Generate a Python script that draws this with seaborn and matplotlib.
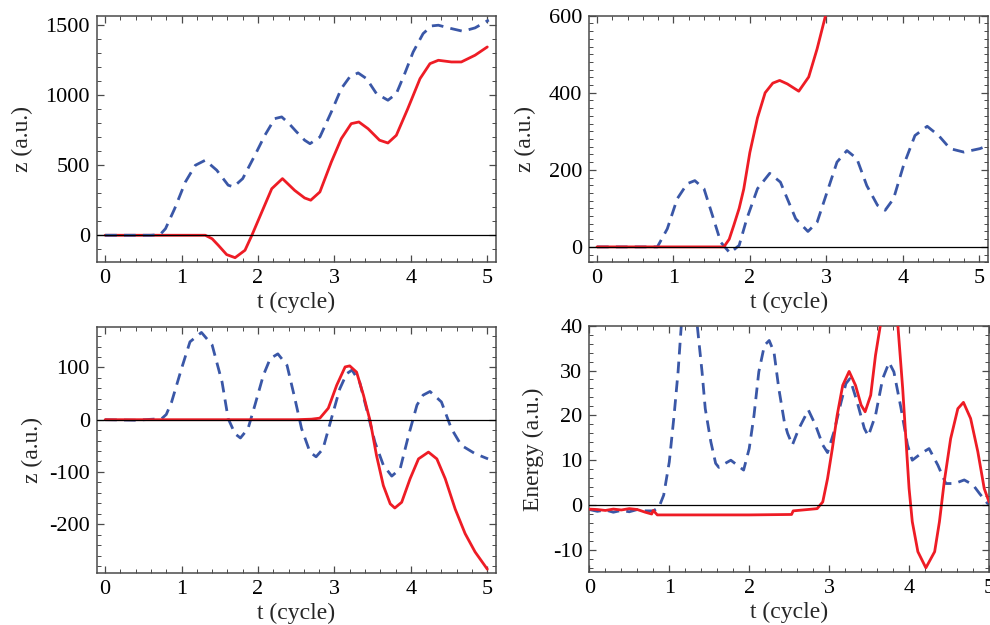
import numpy as np
import pandas as pd
import matplotlib
matplotlib.use("Agg")
import matplotlib.pyplot as plt
from matplotlib.ticker import MultipleLocator
import seaborn as sns

# ---------------- data ----------------
# Panel 1 (top-left): z (a.u.)
p1_blue_t = [0, 0.3, 0.6, 0.72, 0.79, 0.91, 1.05, 1.18, 1.31, 1.46, 1.61, 1.68, 1.80, 1.96, 2.09,
             2.22, 2.31, 2.40, 2.50, 2.61, 2.68, 2.81, 2.96, 3.09, 3.20, 3.31, 3.42, 3.55, 3.70,
             3.81, 3.92, 4.03, 4.16, 4.27, 4.36, 4.53, 4.68, 4.84, 4.99, 5.02]
p1_blue_z = [0, 0, 0, 5, 47, 190, 380, 499, 535, 464, 357, 345, 404, 571, 713,
             832, 844, 800, 740, 678, 653, 701, 880, 1046, 1129, 1158, 1117, 1010, 963,
             1010, 1153, 1307, 1438, 1493, 1498, 1474, 1455, 1479, 1526, 1535]
p1_red_t = [0, 0.5, 1.0, 1.31, 1.40, 1.48, 1.59, 1.70, 1.83, 1.92, 2.05, 2.18, 2.32, 2.48, 2.61,
            2.69, 2.81, 2.96, 3.09, 3.22, 3.32, 3.44, 3.59, 3.70, 3.81, 3.96, 4.12, 4.25, 4.36,
            4.53, 4.66, 4.84, 5.00]
p1_red_z = [0, 0, 0, 0, -25, -71, -138, -160, -107, 0, 166, 332, 404, 320, 266,
            250, 309, 523, 689, 796, 808, 760, 678, 658, 713, 903, 1117, 1224, 1248,
            1236, 1236, 1284, 1343]

# Panel 2 (top-right): z (a.u.)
p2_blue_t = [0, 0.5, 0.79, 0.92, 1.05, 1.18, 1.28, 1.40, 1.51, 1.62, 1.74, 1.86, 1.96, 2.10, 2.26,
             2.40, 2.49, 2.60, 2.76, 2.88, 3.01, 3.14, 3.27, 3.40, 3.53, 3.67, 3.77, 3.88, 4.01,
             4.16, 4.32, 4.47, 4.62, 4.80, 5.01, 5.05]
p2_blue_z = [0, 0, 0, 47, 125, 164, 172, 151, 82, 12, -16, 4, 73, 151, 191,
             168, 125, 73, 40, 64, 142, 220, 250, 229, 159, 108, 95, 125, 211,
             289, 313, 289, 255, 246, 255, 258]
p2_red_t = [0, 1.0, 1.66, 1.73, 1.79, 1.86, 1.92, 2.00, 2.10, 2.20, 2.30, 2.39, 2.49, 2.64, 2.77,
            2.88, 2.99]
p2_red_z = [0, 0, 0, 20, 56, 100, 150, 245, 335, 400, 425, 432, 423, 404, 441,
            514, 600]

# Panel 3 (bottom-left): z (a.u.)
p3_blue_t = [0, 0.4, 0.74, 0.80, 0.87, 1.00, 1.11, 1.26, 1.40, 1.53, 1.61, 1.70, 1.77, 1.87, 1.96,
             2.07, 2.16, 2.26, 2.38, 2.48, 2.57, 2.68, 2.76, 2.85, 2.96, 3.07, 3.16, 3.23, 3.33,
             3.42, 3.53, 3.64, 3.75, 3.86, 3.97, 4.08, 4.16, 4.25, 4.40, 4.53, 4.66, 4.84, 5.01]
p3_blue_z = [0, -1, 2, 10, 34, 98, 149, 167, 143, 72, 2, -27, -35, -17, 28,
             85, 117, 126, 104, 42, -17, -62, -71, -56, 2, 59, 88, 95, 72,
             21, -43, -87, -108, -94, -30, 28, 47, 54, 34, -17, -49, -65, -75]
p3_red_t = [0, 0.5, 1.0, 1.5, 2.0, 2.5, 2.70, 2.81, 2.92, 3.03, 3.14, 3.20, 3.29, 3.38, 3.47,
            3.55, 3.64, 3.73, 3.79, 3.88, 3.99, 4.10, 4.23, 4.34, 4.45, 4.58, 4.71, 4.84, 5.00]
p3_red_z = [0, 0, 0, 0, 0, 0, 1, 3, 22, 66, 101, 103, 91, 47, -4,
            -68, -126, -161, -169, -158, -113, -75, -62, -75, -113, -171, -218, -253, -286]

# Panel 4 (bottom-right): Energy (a.u.)
p4_blue_t = [0, 0.1, 0.2, 0.3, 0.4, 0.5, 0.6, 0.7, 0.8, 0.87, 0.93, 1.00, 1.06, 1.11, 1.15,
             1.25, 1.35, 1.41, 1.45, 1.52, 1.58, 1.62, 1.70, 1.77, 1.85, 1.93, 2.00, 2.06, 2.12,
             2.19, 2.25, 2.31, 2.37, 2.44, 2.48, 2.54, 2.62, 2.74, 2.83, 2.92, 2.98, 3.06, 3.15,
             3.21, 3.26, 3.35, 3.44, 3.49, 3.58, 3.67, 3.75, 3.81, 3.90, 3.98, 4.04, 4.15, 4.25,
             4.36, 4.46, 4.57, 4.69, 4.80, 4.88, 4.98, 5.00]
p4_blue_e = [-1.0, -1.4, -1.1, -1.6, -1.2, -1.5, -1.0, -1.3, -1.3, -0.5, 2.2, 9.6, 20, 29.7, 40,
             47, 40, 29.7, 21.5, 14.1, 9.3, 8.4, 9.3, 10, 8.9, 7.8, 12.6, 20, 29.7,
             35.6, 36.7, 34.1, 26, 18.5, 16, 13.4, 17, 21.2, 17.8, 13.4, 11.7, 16.3, 23,
             27.1, 28.2, 23, 17.1, 15.4, 20, 28.2, 31.8, 29.7, 21.5, 13.4, 10, 11.5, 12.6,
             8.9, 4.8, 4.8, 5.6, 4.5, 2.6, 0.4, 0.2]
p4_red_t = [0, 0.1, 0.2, 0.3, 0.4, 0.5, 0.6, 0.7, 0.78, 0.80, 0.85, 1.5, 2.0, 2.53, 2.55,
            2.85, 2.92, 2.98, 3.04, 3.10, 3.17, 3.25, 3.33, 3.40, 3.45, 3.52, 3.58, 3.64, 3.75,
            3.86, 3.92, 3.96, 4.00, 4.04, 4.11, 4.21, 4.32, 4.38, 4.44, 4.52, 4.61, 4.68, 4.77,
            4.86, 4.94, 5.00]
p4_red_e = [-0.9, -1.0, -1.2, -0.9, -1.1, -0.8, -1.0, -1.6, -2.0, -1.2, -2.2, -2.2, -2.2, -2.1, -1.3,
            -0.8, 0.7, 5.9, 12.6, 20, 26.7, 29.8, 26.7, 22.3, 20.8, 24.5, 33.4, 40, 50,
            40, 26, 14.8, 3.7, -3.7, -10.4, -14.0, -10.4, -3.7, 5.2, 14.8, 21.5, 22.9, 19.3,
            11.9, 3.7, 0.7]

x_ticks = [0, 1, 2, 3, 4, 5]
x_label = "t (cycle)"
y_labels = ["z (a.u.)", "z (a.u.)", "z (a.u.)", "Energy (a.u.)"]

# ---------------- style ----------------
sns.set_style("ticks")
plt.rcParams["font.family"] = ["Liberation Serif", "DejaVu Serif"]
plt.rcParams["axes.unicode_minus"] = False
plt.rcParams["mathtext.fontset"] = "stix"

RED = "#ee1c25"
BLUE = "#3a57a7"
FRAME = "#4a4a4a"

fig = plt.figure(figsize=(9.9, 6.25), dpi=100)

panels = [
    dict(rect=[0.0977, 0.5803, 0.4030, 0.3946], blue=(p1_blue_t, p1_blue_z), red=(p1_red_t, p1_red_z),
         xlim=(-0.11, 5.11), ylim=(-193, 1566), yticks=[0, 500, 1000, 1500], yminor=100,
         ylab=y_labels[0], ylabx=-0.187, blue_top=True),
    dict(rect=[0.5953, 0.5803, 0.4030, 0.3946], blue=(p2_blue_t, p2_blue_z), red=(p2_red_t, p2_red_z),
         xlim=(-0.10, 5.12), ylim=(-40, 600), yticks=[0, 200, 400, 600], yminor=20,
         ylab=y_labels[1], ylabx=-0.161, blue_top=False),
    dict(rect=[0.0977, 0.0827, 0.4030, 0.3946], blue=(p3_blue_t, p3_blue_z), red=(p3_red_t, p3_red_z),
         xlim=(-0.11, 5.11), ylim=(-294, 178), yticks=[-200, -100, 0, 100], yminor=20,
         ylab=y_labels[2], ylabx=-0.162, blue_top=False),
    dict(rect=[0.5953, 0.0843, 0.4037, 0.3946], blue=(p4_blue_t, p4_blue_e), red=(p4_red_t, p4_red_e),
         xlim=(0, 5), ylim=(-15, 40), yticks=[-10, 0, 10, 20, 30, 40], yminor=2,
         ylab=y_labels[3], ylabx=-0.141, blue_top=False),
]

for p in panels:
    ax = fig.add_axes(p["rect"])
    bt, bz = p["blue"]
    rt, rz = p["red"]
    zb = 3 if p["blue_top"] else 2
    zr = 2 if p["blue_top"] else 3
    sns.lineplot(x=rt, y=rz, ax=ax, color=RED, lw=2.0, estimator=None, sort=False,
                 zorder=zr, solid_joinstyle="round")
    sns.lineplot(x=bt, y=bz, ax=ax, color=BLUE, lw=2.0, estimator=None, sort=False,
                 linestyle=(0, (4.2, 2.6)), zorder=zb)
    ax.axhline(0, color="black", lw=0.9, zorder=4)

    ax.set_xlim(*p["xlim"])
    ax.set_ylim(*p["ylim"])
    ax.set_xticks(x_ticks)
    ax.set_yticks(p["yticks"])
    ax.xaxis.set_minor_locator(MultipleLocator(0.2))
    ax.yaxis.set_minor_locator(MultipleLocator(p["yminor"]))
    ax.tick_params(which="both", direction="in", top=True, right=True,
                   color=FRAME, labelsize=16, labelcolor="black")
    ax.tick_params(which="major", length=5.0, width=0.9, pad=5)
    ax.tick_params(which="minor", length=2.6, width=0.7)
    for s in ax.spines.values():
        s.set_color(FRAME)
        s.set_linewidth(1.1)
        s.set_visible(True)

    ax.set_xlabel(x_label, fontsize=17, va="top")
    ax.xaxis.set_label_coords(0.5, -0.118)
    ax.set_ylabel(p["ylab"], fontsize=17, va="center")
    ax.yaxis.set_label_coords(p["ylabx"], 0.5)

fig.savefig("out.png", dpi=100)
